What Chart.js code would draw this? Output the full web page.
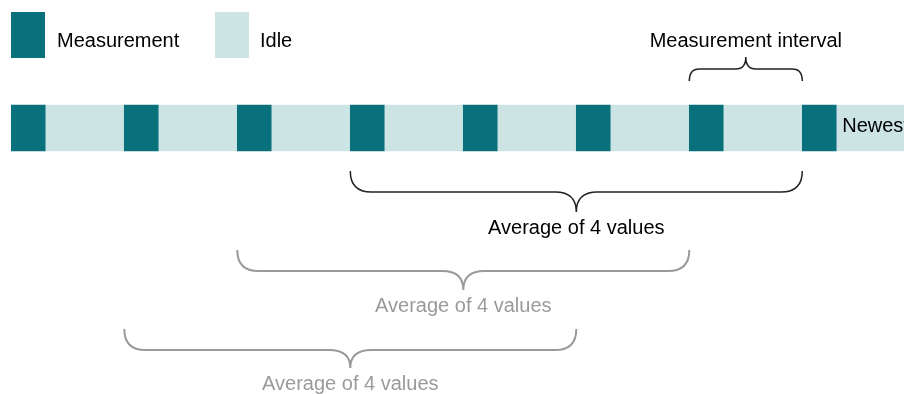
<!DOCTYPE html>
<html>
<head>
<meta charset="utf-8">
<script src="https://cdn.jsdelivr.net/npm/chart.js@4/dist/chart.umd.min.js"></script>
<style>
  html, body { margin: 0; padding: 0; background: #ffffff; }
  #wrap { width: 904px; height: 394px; }
</style>
</head>
<body>
<div id="wrap"><canvas id="c" width="904" height="394"></canvas></div>
<script>
// ---- data (time units: seconds along the timeline) ----
const seriesNames = ['Measurement', 'Idle'];
const measurementSpans = [[0,3],[10,13],[20,23],[30,33],[40,43],[50,53],[60,63],[70,73]];
const idleSpans = [[3,10],[13,20],[23,30],[33,40],[43,50],[53,60],[63,70],[73,80]];
const averageWindows = [[30,70],[20,60],[10,50]];
const averageLabels = ['Average of 4 values', 'Average of 4 values', 'Average of 4 values'];
const intervalSpan = [60,70];
const intervalLabel = 'Measurement interval';
const newestLabel = 'Newest';

// ---- layout / style ----
const FONT = '20px "Liberation Sans", Arial, sans-serif';
const TEAL = '#08717C';
const IDLE = '#CDE4E5';
const BAR_Y = 128;
const braceLevels = [
  { end: 171, line: 192, tip: 212, text: 234, color: '#222222', text_color: '#000000', width: 1.5 },
  { end: 250, line: 271, tip: 290, text: 312, color: '#9a9a9a', text_color: '#9a9a9a', width: 2 },
  { end: 329, line: 350, tip: 368, text: 390, color: '#9a9a9a', text_color: '#9a9a9a', width: 2 }
];
const intervalLevel = { end: 81, line: 69, tip: 57, text: 47 };

function drawBrace(ctx, x0, x1, yEnd, yLine, yTip, r) {
  const xm = (x0 + x1) / 2;
  ctx.beginPath();
  ctx.moveTo(x0, yEnd);
  ctx.quadraticCurveTo(x0, yLine, x0 + r, yLine);
  ctx.lineTo(xm - r, yLine);
  ctx.quadraticCurveTo(xm, yLine, xm, yTip);
  ctx.quadraticCurveTo(xm, yLine, xm + r, yLine);
  ctx.lineTo(x1 - r, yLine);
  ctx.quadraticCurveTo(x1, yLine, x1, yEnd);
  ctx.stroke();
}

const annotations = {
  id: 'annotations',
  afterDatasetsDraw(chart) {
    const ctx = chart.ctx;
    const xs = chart.scales.x, ys = chart.scales.y;
    ctx.save();
    ctx.font = FONT;
    ctx.textBaseline = 'alphabetic';

    // legend
    const legendItems = [
      { name: seriesNames[0], color: chart.data.datasets[0].backgroundColor, box: 11, text: 57 },
      { name: seriesNames[1], color: chart.data.datasets[1].backgroundColor, box: 215, text: 260 }
    ];
    legendItems.forEach(it => {
      ctx.fillStyle = it.color;
      ctx.fillRect(it.box, 12, 34, 46);
      ctx.fillStyle = '#000000';
      ctx.textAlign = 'left';
      ctx.fillText(it.name, it.text, 47);
    });

    // newest label
    ctx.fillStyle = '#000000';
    ctx.textAlign = 'left';
    ctx.fillText(newestLabel, xs.getPixelForValue(measurementSpans[measurementSpans.length - 1][1]) + 6, ys.getPixelForValue(BAR_Y) + 4);

    // measurement interval brace
    const ix0 = xs.getPixelForValue(intervalSpan[0]);
    const ix1 = xs.getPixelForValue(intervalSpan[1]);
    ctx.strokeStyle = '#222222';
    ctx.lineWidth = 1.5;
    drawBrace(ctx, ix0, ix1, intervalLevel.end, intervalLevel.line, intervalLevel.tip, 10);
    ctx.textAlign = 'center';
    ctx.fillStyle = '#000000';
    ctx.fillText(intervalLabel, (ix0 + ix1) / 2, intervalLevel.text);

    // average windows
    averageWindows.forEach((w, i) => {
      const lv = braceLevels[i];
      const x0 = xs.getPixelForValue(w[0]);
      const x1 = xs.getPixelForValue(w[1]);
      ctx.strokeStyle = lv.color;
      ctx.lineWidth = lv.width;
      drawBrace(ctx, x0, x1, lv.end, lv.line, lv.tip, 21);
      ctx.fillStyle = lv.text_color;
      ctx.textAlign = 'center';
      ctx.fillText(averageLabels[i], (x0 + x1) / 2, lv.text);
    });
    ctx.restore();
  }
};

new Chart(document.getElementById('c'), {
  type: 'bar',
  data: {
    datasets: [
      {
        label: seriesNames[0],
        data: measurementSpans.map(s => ({ x: s, y: BAR_Y })),
        backgroundColor: TEAL,
        borderWidth: 0,
        barThickness: 46,
        grouped: false,
        order: 1
      },
      {
        label: seriesNames[1],
        data: idleSpans.map(s => ({ x: s, y: BAR_Y })),
        backgroundColor: IDLE,
        borderWidth: 0,
        barThickness: 46,
        grouped: false,
        order: 2
      }
    ]
  },
  options: {
    indexAxis: 'y',
    responsive: false,
    animation: false,
    events: [],
    layout: { padding: 0 },
    scales: {
      x: { type: 'linear', min: -1, max: 79, display: false, offset: false },
      y: { type: 'linear', min: 0, max: 394, reverse: true, display: false, offset: false }
    },
    plugins: {
      legend: { display: false },
      tooltip: { enabled: false }
    }
  },
  plugins: [annotations]
});
</script>
</body>
</html>
